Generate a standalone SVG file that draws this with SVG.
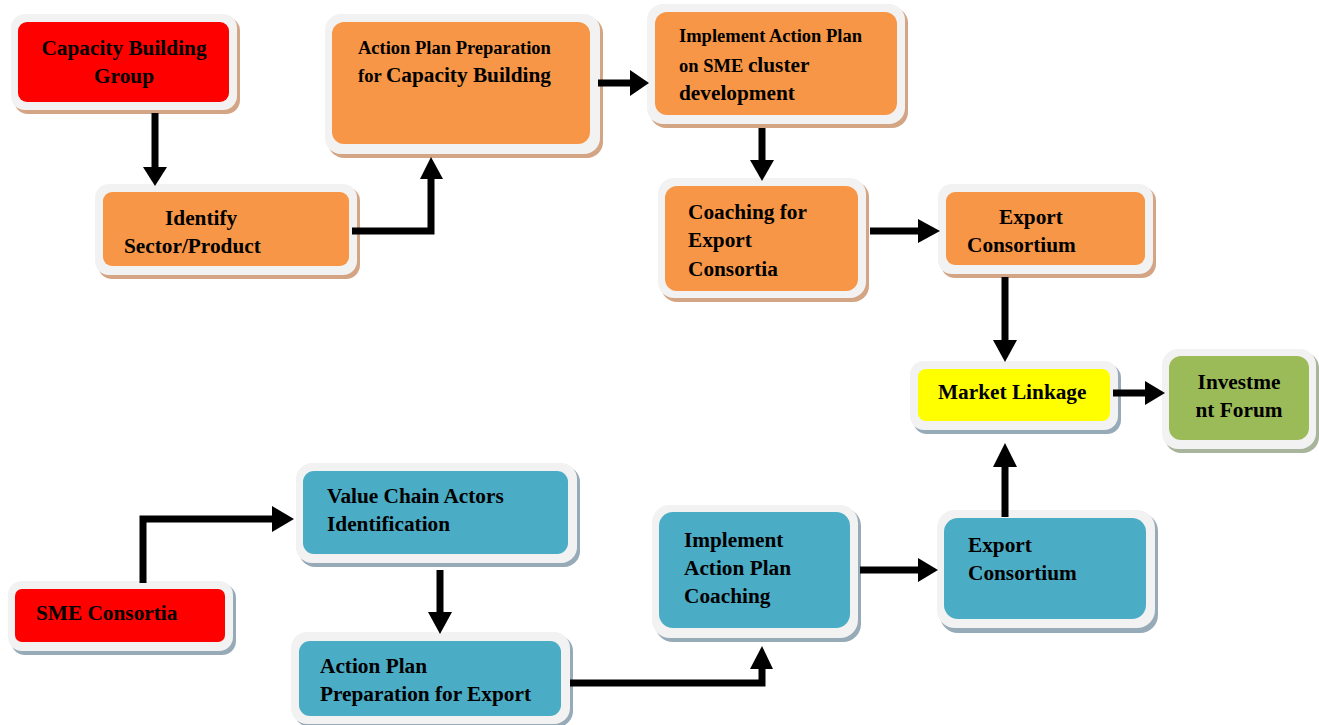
<svg xmlns="http://www.w3.org/2000/svg" width="1319" height="725" viewBox="0 0 1319 725">
<style>
  .t{font-family:"Liberation Serif","Times New Roman",serif;font-weight:bold;fill:#000;font-size:21.3px}
  .s{font-size:18.5px}
  .outer{fill:#f2f2f2}
  .shB{fill:#d4a585}
  .shL{fill:#97aab8}
  .shG{fill:#a8b49c}
  .red{fill:#ff0000}
  .org{fill:#f79646}
  .blu{fill:#4bacc6}
  .yel{fill:#ffff00}
  .grn{fill:#9bbb59}
  .ln{fill:none;stroke:#000;stroke-width:7}
  .hd{fill:#000}
</style>
<rect width="1319" height="725" fill="#fff"/>

<g id="n-capacity">
  <rect class="shB" x="14" y="17" width="226" height="97" rx="14"/>
  <rect class="outer" x="11" y="14" width="226" height="96" rx="14"/>
  <rect class="red" x="18" y="22" width="211" height="80" rx="9"/>
  <text class="t" x="124" y="55" text-anchor="middle">Capacity Building</text>
  <text class="t" x="124" y="83" text-anchor="middle">Group</text>
</g>

<g id="n-identify">
  <rect class="shB" x="98" y="187" width="262" height="92" rx="14"/>
  <rect class="outer" x="95" y="184" width="262" height="91" rx="14"/>
  <rect class="org" x="103" y="192" width="246" height="74" rx="9"/>
  <text class="t" x="165" y="225">Identify</text>
  <text class="t" x="124" y="253">Sector/Product</text>
</g>

<g id="n-apcb">
  <rect class="shB" x="328" y="17" width="275" height="141" rx="16"/>
  <rect class="outer" x="325" y="14" width="275" height="140" rx="16"/>
  <rect class="org" x="332" y="22" width="258" height="122" rx="12"/>
  <text class="t s" x="358" y="54">Action Plan Preparation</text>
  <text class="t" x="358" y="82"><tspan class="s">for </tspan><tspan>Capacity Building</tspan></text>
</g>

<g id="n-implement-sme">
  <rect class="shB" x="650" y="7" width="258" height="121" rx="16"/>
  <rect class="outer" x="647" y="4" width="258" height="120" rx="16"/>
  <rect class="org" x="655" y="12" width="242" height="103" rx="12"/>
  <text class="t s" x="679" y="42">Implement Action Plan</text>
  <text class="t" x="679" y="72"><tspan class="s">on SME </tspan><tspan>cluster</tspan></text>
  <text class="t" x="679" y="100">development</text>
</g>

<g id="n-coaching">
  <rect class="shB" x="661" y="181" width="208" height="121" rx="16"/>
  <rect class="outer" x="658" y="178" width="208" height="120" rx="16"/>
  <rect class="org" x="665" y="186" width="193" height="105" rx="12"/>
  <text class="t" x="688" y="219">Coaching for</text>
  <text class="t" x="688" y="247">Export</text>
  <text class="t" x="688" y="276">Consortia</text>
</g>

<g id="n-export-o">
  <rect class="shB" x="941" y="187" width="215" height="91" rx="14"/>
  <rect class="outer" x="938" y="184" width="215" height="90" rx="14"/>
  <rect class="org" x="946" y="192" width="199" height="73" rx="9"/>
  <text class="t" x="999" y="224">Export</text>
  <text class="t" x="967" y="252">Consortium</text>
</g>

<g id="n-market">
  <rect class="shL" x="913" y="364" width="208" height="70" rx="14"/>
  <rect class="outer" x="910" y="361" width="208" height="69" rx="14"/>
  <rect class="yel" x="918" y="369" width="192" height="52" rx="8"/>
  <text class="t" x="938" y="399">Market Linkage</text>
</g>

<g id="n-invest">
  <rect class="shG" x="1165" y="352" width="154" height="101" rx="16"/>
  <rect class="outer" x="1162" y="349" width="154" height="100" rx="16"/>
  <rect class="grn" x="1169" y="356" width="140" height="84" rx="12"/>
  <text class="t" x="1239" y="389" text-anchor="middle">Investme</text>
  <text class="t" x="1239" y="417" text-anchor="middle">nt Forum</text>
</g>

<g id="n-value">
  <rect class="shL" x="299" y="466" width="281" height="101" rx="16"/>
  <rect class="outer" x="296" y="463" width="281" height="100" rx="16"/>
  <rect class="blu" x="303" y="471" width="265" height="83" rx="11"/>
  <text class="t" x="327" y="503">Value Chain Actors</text>
  <text class="t" x="327" y="531">Identification</text>
</g>

<g id="n-sme">
  <rect class="shL" x="11" y="584" width="225" height="71" rx="14"/>
  <rect class="outer" x="8" y="581" width="225" height="70" rx="14"/>
  <rect class="red" x="15" y="589" width="210" height="53" rx="7"/>
  <text class="t" x="36" y="620">SME Consortia</text>
</g>

<g id="n-apexport">
  <rect class="shL" x="294" y="635" width="279" height="92" rx="16"/>
  <rect class="outer" x="291" y="632" width="279" height="92" rx="16"/>
  <rect class="blu" x="299" y="641" width="262" height="75" rx="11"/>
  <text class="t" x="320" y="673">Action Plan</text>
  <text class="t" x="320" y="701">Preparation for Export</text>
</g>

<g id="n-impl-coach">
  <rect class="shL" x="655" y="508" width="206" height="134" rx="18"/>
  <rect class="outer" x="652" y="505" width="206" height="133" rx="18"/>
  <rect class="blu" x="659" y="512" width="191" height="116" rx="14"/>
  <text class="t" x="684" y="547">Implement</text>
  <text class="t" x="684" y="575">Action Plan</text>
  <text class="t" x="684" y="603">Coaching</text>
</g>

<g id="n-export-b">
  <rect class="shL" x="940" y="513" width="218" height="120" rx="18"/>
  <rect class="outer" x="937" y="510" width="218" height="118" rx="18"/>
  <rect class="blu" x="944" y="518" width="202" height="101" rx="14"/>
  <text class="t" x="968" y="552">Export</text>
  <text class="t" x="968" y="580">Consortium</text>
</g>

<g id="connectors">
  <path class="ln" d="M155 113 V168"/>
  <polygon class="hd" points="143,167 167,167 155,186"/>

  <path class="ln" d="M352 231 H431 V176"/>
  <polygon class="hd" points="420,179 443,179 431,157"/>

  <path class="ln" d="M598 83 H632"/>
  <polygon class="hd" points="630,70 630,96 649,83"/>

  <path class="ln" d="M762 128 V162"/>
  <polygon class="hd" points="750,160 774,160 762,181"/>

  <path class="ln" d="M870 231 H920"/>
  <polygon class="hd" points="918,219 918,243 940,231"/>

  <path class="ln" d="M1005 277 V342"/>
  <polygon class="hd" points="993,340 1017,340 1005,362"/>

  <path class="ln" d="M1113 393 H1147"/>
  <polygon class="hd" points="1145,381 1145,405 1165,393"/>

  <path class="ln" d="M1005 517 V465"/>
  <polygon class="hd" points="993,467 1017,467 1005,443"/>

  <path class="ln" d="M143 583 V519 H274"/>
  <polygon class="hd" points="272,506 272,532 294,519"/>

  <path class="ln" d="M440 570 V614"/>
  <polygon class="hd" points="428,612 452,612 440,634"/>

  <path class="ln" d="M570 683 H762 V667"/>
  <polygon class="hd" points="750,669 773,669 762,646"/>

  <path class="ln" d="M860 570 H920"/>
  <polygon class="hd" points="918,558 918,582 938,570"/>
</g>
</svg>
